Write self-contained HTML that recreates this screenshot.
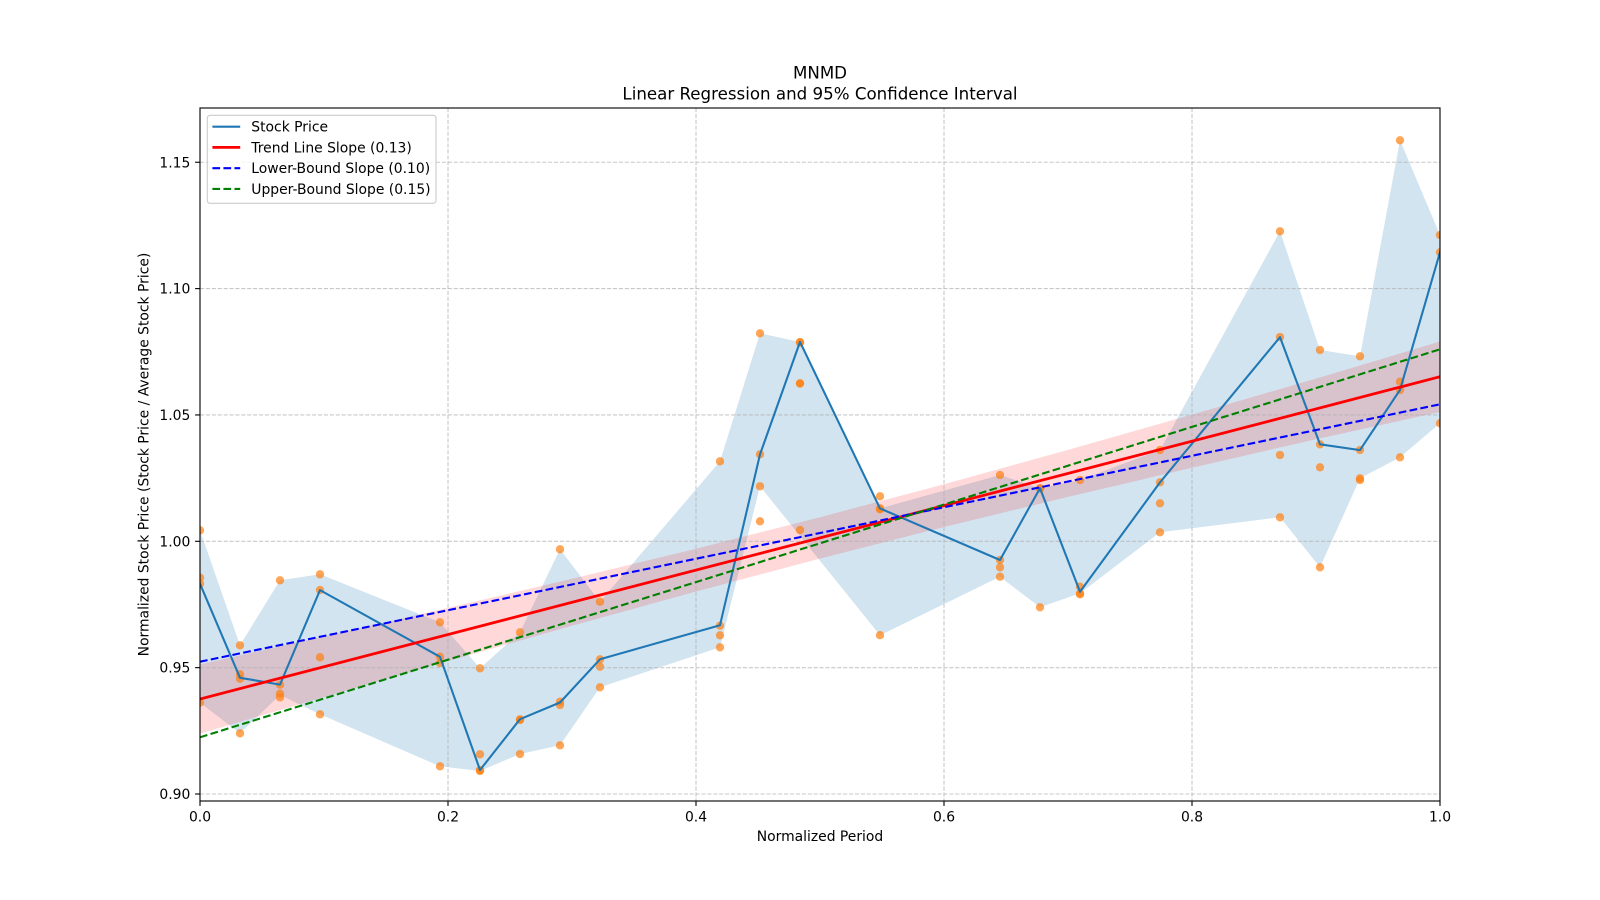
<!DOCTYPE html>
<html>
<head>
<meta charset="utf-8">
<style>
  html, body { margin: 0; padding: 0; background: #ffffff; }
  svg { display: block; }
  text { font-family: "DejaVu Sans", "Liberation Sans", sans-serif; fill: #000; }
</style>
</head>
<body>
<svg width="1600" height="900" viewBox="0 0 1600 900" xmlns="http://www.w3.org/2000/svg">
  <rect x="0" y="0" width="1600" height="900" fill="#ffffff"/>
  <defs>
    <clipPath id="plot">
      <rect x="200" y="108" width="1240" height="693"/>
    </clipPath>
  </defs>

  <g clip-path="url(#plot)">
    <!-- blue fill (price range) -->
    <polygon fill="#1f77b4" fill-opacity="0.2" points="
      200,530.3 240,645.3 280,580.3 320,574.3 440,622.3 480,668.3 520,632.3 560,549.3 600,601.7 720,461.3 760,333.3 800,342 880,508.4 1000,475 1040,488.3 1080,480 1160,450 1280,231.3 1320,350 1360,356.3 1400,140.3 1440,235
      1440,423.3 1400,457.3 1360,478.3 1320,567.3 1280,517.3 1160,532.3 1080,593.3 1040,607.3 1000,576.7 880,635.3 800,536 760,486.3 720,647.3 600,687.3 560,745.3 520,754 480,771 440,766.3 320,714.3 280,695 240,733.3 200,702.7"/>

    <!-- regression confidence band -->
    <polygon fill="#ff0000" fill-opacity="0.15" points="
      200,664.4 324,636.5 448,607.9 572,578.8 696,548.7 820,517.2 944,484.2 1068,449.9 1192,414.6 1316,378.6 1440,341.5
      1440,412 1316,439.2 1192,467.8 1068,496.9 944,527.0 820,558.6 696,591.5 572,625.8 448,661.1 324,697.1 200,733.6"/>

    <!-- scatter points -->
    <g fill="#ff7f0e" fill-opacity="0.7">
      <circle cx="200" cy="530.3" r="4.17"/><circle cx="200" cy="577.7" r="4.17"/><circle cx="200" cy="583.7" r="4.17"/><circle cx="200" cy="702.7" r="4.17"/>
      <circle cx="240" cy="645.3" r="4.17"/><circle cx="240" cy="674.3" r="4.17"/><circle cx="240" cy="678.7" r="4.17"/><circle cx="240" cy="733.3" r="4.17"/>
      <circle cx="280" cy="580.3" r="4.17"/><circle cx="280" cy="684.7" r="4.17"/><circle cx="280" cy="693.7" r="4.17"/><circle cx="280" cy="697.3" r="4.17"/>
      <circle cx="320" cy="574.3" r="4.17"/><circle cx="320" cy="590" r="4.17"/><circle cx="320" cy="657.3" r="4.17"/><circle cx="320" cy="714.3" r="4.17"/>
      <circle cx="440" cy="622.3" r="4.17"/><circle cx="440" cy="656.7" r="4.17"/><circle cx="440" cy="663" r="4.17"/><circle cx="440" cy="766.3" r="4.17"/>
      <circle cx="480" cy="668.3" r="4.17"/><circle cx="480" cy="754.3" r="4.17"/><circle cx="480" cy="770" r="4.17"/><circle cx="480" cy="771" r="4.17"/>
      <circle cx="520" cy="632.3" r="4.17"/><circle cx="520" cy="719.3" r="4.17"/><circle cx="520" cy="720" r="4.17"/><circle cx="520" cy="754" r="4.17"/>
      <circle cx="560" cy="549.3" r="4.17"/><circle cx="560" cy="701.7" r="4.17"/><circle cx="560" cy="705" r="4.17"/><circle cx="560" cy="745.3" r="4.17"/>
      <circle cx="600" cy="601.7" r="4.17"/><circle cx="600" cy="659.3" r="4.17"/><circle cx="600" cy="666.7" r="4.17"/><circle cx="600" cy="687.3" r="4.17"/>
      <circle cx="720" cy="461.3" r="4.17"/><circle cx="720" cy="625.7" r="4.17"/><circle cx="720" cy="635.3" r="4.17"/><circle cx="720" cy="647.3" r="4.17"/>
      <circle cx="760" cy="333.3" r="4.17"/><circle cx="760" cy="454.3" r="4.17"/><circle cx="760" cy="486.3" r="4.17"/><circle cx="760" cy="521.3" r="4.17"/>
      <circle cx="800" cy="342" r="4.17"/><circle cx="800" cy="342.7" r="4.17"/><circle cx="800" cy="383.3" r="4.17"/><circle cx="800" cy="383.6" r="4.17"/><circle cx="800" cy="530" r="4.17"/>
      <circle cx="880" cy="496.3" r="4.17"/><circle cx="880" cy="508.3" r="4.17"/><circle cx="880" cy="509.3" r="4.17"/><circle cx="880" cy="635.2" r="4.17"/>
      <circle cx="1000" cy="475" r="4.17"/><circle cx="1000" cy="560" r="4.17"/><circle cx="1000" cy="567.3" r="4.17"/><circle cx="1000" cy="576.7" r="4.17"/>
      <circle cx="1040" cy="488.3" r="4.17"/><circle cx="1040" cy="488.6" r="4.17"/><circle cx="1040" cy="607.3" r="4.17"/>
      <circle cx="1080" cy="480" r="4.17"/><circle cx="1080" cy="586.7" r="4.17"/><circle cx="1080" cy="593.3" r="4.17"/><circle cx="1080" cy="594.3" r="4.17"/>
      <circle cx="1160" cy="450" r="4.17"/><circle cx="1160" cy="482.3" r="4.17"/><circle cx="1160" cy="503.3" r="4.17"/><circle cx="1160" cy="532.3" r="4.17"/>
      <circle cx="1280" cy="231.3" r="4.17"/><circle cx="1280" cy="337" r="4.17"/><circle cx="1280" cy="455" r="4.17"/><circle cx="1280" cy="517.3" r="4.17"/>
      <circle cx="1320" cy="350" r="4.17"/><circle cx="1320" cy="444.3" r="4.17"/><circle cx="1320" cy="467.3" r="4.17"/><circle cx="1320" cy="567.3" r="4.17"/>
      <circle cx="1360" cy="356.3" r="4.17"/><circle cx="1360" cy="450" r="4.17"/><circle cx="1360" cy="478.3" r="4.17"/><circle cx="1360" cy="480" r="4.17"/>
      <circle cx="1400" cy="140.3" r="4.17"/><circle cx="1400" cy="381.7" r="4.17"/><circle cx="1400" cy="390" r="4.17"/><circle cx="1400" cy="457.3" r="4.17"/>
      <circle cx="1440" cy="235" r="4.17"/><circle cx="1440" cy="252.3" r="4.17"/><circle cx="1440" cy="423.3" r="4.17"/>
    </g>

    <!-- grid -->
    <g stroke="#b0b0b0" stroke-opacity="0.7" stroke-width="1.1" stroke-dasharray="4.1,1.8" fill="none">
      <line x1="448" y1="108" x2="448" y2="801"/>
      <line x1="696" y1="108" x2="696" y2="801"/>
      <line x1="944" y1="108" x2="944" y2="801"/>
      <line x1="1192" y1="108" x2="1192" y2="801"/>
      <line x1="200" y1="794" x2="1440" y2="794"/>
      <line x1="200" y1="667.65" x2="1440" y2="667.65"/>
      <line x1="200" y1="541.3" x2="1440" y2="541.3"/>
      <line x1="200" y1="414.95" x2="1440" y2="414.95"/>
      <line x1="200" y1="288.6" x2="1440" y2="288.6"/>
      <line x1="200" y1="162.25" x2="1440" y2="162.25"/>
    </g>

    <!-- stock price line -->
    <polyline fill="none" stroke="#1f77b4" stroke-width="2.08" stroke-linejoin="round" stroke-linecap="square" points="
      200,583.8 240,677.8 280,684.6 320,590.1 440,656.8 480,770 520,719.2 560,702.5 600,659.3 720,625.2 760,454.4 800,341.9 880,508.4 1000,560 1040,488.2 1080,591.8 1160,482.4 1280,337.1 1320,444.3 1360,450.1 1400,389.9 1440,252.2"/>

    <!-- trend line -->
    <line x1="200" y1="699" x2="1440" y2="376.7" stroke="#ff0000" stroke-width="2.78"/>
    <!-- lower bound -->
    <line x1="200" y1="661.7" x2="1440" y2="404.3" stroke="#0000ff" stroke-width="2.08" stroke-dasharray="7.7,3.33"/>
    <!-- upper bound -->
    <line x1="200" y1="737.3" x2="1440" y2="349.3" stroke="#008000" stroke-width="2.08" stroke-dasharray="7.7,3.33"/>
  </g>

  <!-- spines -->
  <rect x="200" y="108" width="1240" height="693" fill="none" stroke="#000" stroke-width="1.11"/>

  <!-- ticks -->
  <g stroke="#000" stroke-width="1.11">
    <line x1="195.1" y1="794" x2="200" y2="794"/>
    <line x1="195.1" y1="667.65" x2="200" y2="667.65"/>
    <line x1="195.1" y1="541.3" x2="200" y2="541.3"/>
    <line x1="195.1" y1="414.95" x2="200" y2="414.95"/>
    <line x1="195.1" y1="288.6" x2="200" y2="288.6"/>
    <line x1="195.1" y1="162.25" x2="200" y2="162.25"/>
    <line x1="200" y1="801" x2="200" y2="805.9"/>
    <line x1="448" y1="801" x2="448" y2="805.9"/>
    <line x1="696" y1="801" x2="696" y2="805.9"/>
    <line x1="944" y1="801" x2="944" y2="805.9"/>
    <line x1="1192" y1="801" x2="1192" y2="805.9"/>
    <line x1="1440" y1="801" x2="1440" y2="805.9"/>
  </g>

  <!-- y tick labels -->
  <g font-size="13.9" text-anchor="end">
    <text x="190.3" y="799">0.90</text>
    <text x="190.3" y="672.65">0.95</text>
    <text x="190.3" y="546.3">1.00</text>
    <text x="190.3" y="419.95">1.05</text>
    <text x="190.3" y="293.6">1.10</text>
    <text x="190.3" y="167.25">1.15</text>
  </g>
  <!-- x tick labels -->
  <g font-size="13.9" text-anchor="middle">
    <text x="200" y="821.5">0.0</text>
    <text x="448" y="821.5">0.2</text>
    <text x="696" y="821.5">0.4</text>
    <text x="944" y="821.5">0.6</text>
    <text x="1192" y="821.5">0.8</text>
    <text x="1440" y="821.5">1.0</text>
  </g>

  <!-- axis labels -->
  <text x="820" y="841" font-size="13.9" text-anchor="middle">Normalized Period</text>
  <text transform="translate(148.5,454.5) rotate(-90)" font-size="13.9" text-anchor="middle">Normalized Stock Price (Stock Price / Average Stock Price)</text>

  <!-- title -->
  <text x="820" y="78.5" font-size="16.67" text-anchor="middle">MNMD</text>
  <text x="820" y="99.5" font-size="16.67" text-anchor="middle">Linear Regression and 95% Confidence Interval</text>

  <!-- legend -->
  <rect x="207.3" y="115.3" width="228.7" height="88" rx="2.8" ry="2.8" fill="#ffffff" fill-opacity="0.8" stroke="#cccccc" stroke-width="1.11"/>
  <line x1="212.4" y1="126.7" x2="240.2" y2="126.7" stroke="#1f77b4" stroke-width="2.08"/>
  <line x1="212.4" y1="147.4" x2="240.2" y2="147.4" stroke="#ff0000" stroke-width="2.78"/>
  <line x1="212.4" y1="168.2" x2="240.2" y2="168.2" stroke="#0000ff" stroke-width="2.08" stroke-dasharray="7.7,3.33"/>
  <line x1="212.4" y1="188.9" x2="240.2" y2="188.9" stroke="#008000" stroke-width="2.08" stroke-dasharray="7.7,3.33"/>
  <g font-size="13.9">
    <text x="251.3" y="131.7">Stock Price</text>
    <text x="251.3" y="152.4">Trend Line Slope (0.13)</text>
    <text x="251.3" y="173.2">Lower-Bound Slope (0.10)</text>
    <text x="251.3" y="193.9">Upper-Bound Slope (0.15)</text>
  </g>
</svg>
</body>
</html>
